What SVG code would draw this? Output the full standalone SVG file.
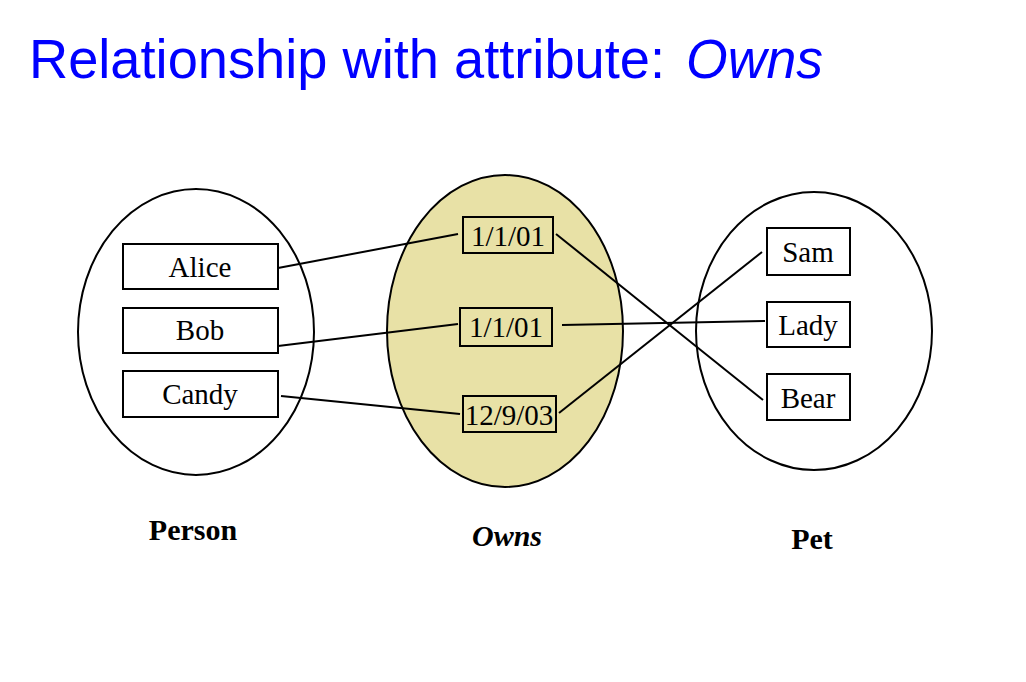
<svg xmlns="http://www.w3.org/2000/svg" width="1026" height="682" viewBox="0 0 1026 682">
<style>
.set{fill:none;stroke:#000;stroke-width:2}
.box{fill:none;stroke:#000;stroke-width:2}
.lbl{font-family:"Liberation Serif",serif;font-size:29px;fill:#000;text-anchor:middle}
.cap{font-family:"Liberation Serif",serif;font-size:30px;font-weight:bold;fill:#000;text-anchor:middle}
.con{stroke:#000;stroke-width:2;fill:none}
.title{font-family:"Liberation Sans",Arial,sans-serif;font-size:56px;fill:#0000FF}
</style>
<rect width="1026" height="682" fill="#fff"/>
<g id="title">
<text class="title" x="29" y="78" textLength="636" lengthAdjust="spacingAndGlyphs">Relationship with attribute:</text>
<text class="title" x="686" y="78" font-style="italic" textLength="137" lengthAdjust="spacingAndGlyphs">Owns</text>
</g>
<g id="person">
<ellipse class="set" cx="196" cy="332" rx="118" ry="143"/>
<text class="cap" x="193" y="540">Person</text>
</g>
<g id="owns">
<ellipse cx="505" cy="331" rx="118" ry="156" fill="#E8E1A6" stroke="#000" stroke-width="2"/>
<text class="cap" x="507" y="546" font-style="italic">Owns</text>
</g>
<g id="pet">
<ellipse class="set" cx="814" cy="331" rx="118" ry="139"/>
<text class="cap" x="812" y="549">Pet</text>
</g>
<g id="alice"><rect class="box" x="123" y="244" width="155" height="45"/><text class="lbl" x="200" y="277">Alice</text></g>
<g id="bob"><rect class="box" x="123" y="308" width="155" height="45"/><text class="lbl" x="200" y="340">Bob</text></g>
<g id="candy"><rect class="box" x="123" y="371" width="155" height="46"/><text class="lbl" x="200" y="404">Candy</text></g>
<g id="d1"><rect class="box" x="463" y="217" width="90" height="36"/><text class="lbl" x="508" y="246">1/1/01</text></g>
<g id="d2"><rect class="box" x="460" y="308" width="92" height="38"/><text class="lbl" x="506" y="337">1/1/01</text></g>
<g id="d3"><rect class="box" x="463" y="396" width="93" height="36"/><text class="lbl" x="509" y="425">12/9/03</text></g>
<g id="sam"><rect class="box" x="767" y="228" width="83" height="47"/><text class="lbl" x="808" y="262">Sam</text></g>
<g id="lady"><rect class="box" x="767" y="302" width="83" height="45"/><text class="lbl" x="808" y="335">Lady</text></g>
<g id="bear"><rect class="box" x="767" y="374" width="83" height="46"/><text class="lbl" x="808" y="408">Bear</text></g>
<g id="connectors">
<line class="con" x1="278" y1="268" x2="458" y2="234"/>
<line class="con" x1="278" y1="346" x2="458" y2="324"/>
<line class="con" x1="281" y1="396" x2="460" y2="414"/>
<line class="con" x1="556" y1="234" x2="763" y2="400"/>
<line class="con" x1="562" y1="325" x2="765" y2="321"/>
<line class="con" x1="559" y1="413" x2="762" y2="252"/>
</g>
</svg>
